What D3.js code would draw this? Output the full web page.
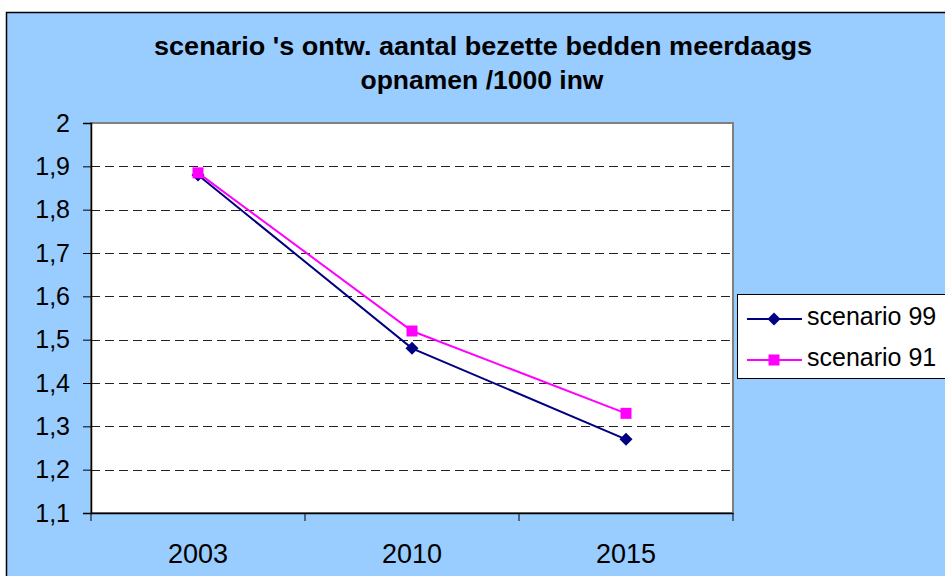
<!DOCTYPE html>
<html><head><meta charset="utf-8">
<script src="https://cdn.jsdelivr.net/npm/d3@7"></script>
<style>body{margin:0;background:#fff}svg{display:block}</style>
</head><body>
<script>
const categories = ["2003", "2010", "2015"];
const scenario99 = [1.88, 1.48, 1.27];
const scenario91 = [1.885, 1.52, 1.33];
const yTicks = [1.1, 1.2, 1.3, 1.4, 1.5, 1.6, 1.7, 1.8, 1.9, 2.0];
const titleLines = ["scenario 's ontw. aantal bezette bedden meerdaags", "opnamen /1000 inw"];
const seriesNames = ["scenario 99", "scenario 91"];

const W = 945, H = 576;
const svg = d3.select("body").append("svg").attr("width", W).attr("height", H);
const font = "'Liberation Sans', Arial, sans-serif";

svg.append("rect").attr("x", 6.5).attr("y", 12.5).attr("width", W + 10).attr("height", H + 10)
  .attr("fill", "#99CCFF").attr("stroke", "#000").attr("stroke-width", 1.5);

const L = 91, T = 123, R = 733, B = 513;
const x = d3.scaleBand().domain(categories).range([L, R]);
const y = d3.scaleLinear().domain([1.1, 2.0]).range([B, T]);

svg.append("rect").attr("x", L).attr("y", T).attr("width", R - L).attr("height", B - T)
  .attr("fill", "#fff").attr("stroke", "#808080").attr("stroke-width", 2);

// gridlines
svg.append("g").selectAll("line").data(yTicks.filter(d => d > 1.1 && d < 2)).join("line")
  .attr("x1", L).attr("x2", R).attr("y1", d => Math.round(y(d)) + 0.5).attr("y2", d => Math.round(y(d)) + 0.5)
  .attr("stroke", "#222").attr("stroke-width", 1).attr("stroke-dasharray", "9,5");

// y axis
const yAxis = d3.axisLeft(y).tickValues(yTicks).tickSize(8).tickPadding(13)
  .tickFormat(d => d3.format(".1f")(d).replace(".", ",").replace(/^2,0$/, "2"));
const gy = svg.append("g").attr("transform", `translate(${L},0)`).call(yAxis);
gy.select(".domain").attr("stroke", "#000").attr("stroke-width", 1.5);
gy.selectAll(".tick line").attr("stroke", "#000");
gy.selectAll("text").attr("font-family", font).attr("font-size", 25).attr("fill", "#000");

// x axis
const xAxis = d3.axisBottom(x).tickSize(0).tickPadding(31);
const gx = svg.append("g").attr("transform", `translate(0,${B})`).call(xAxis);
gx.select(".domain").attr("stroke", "#000").attr("stroke-width", 1.5);
gx.selectAll("text").attr("font-family", font).attr("font-size", 27).attr("fill", "#000");
const bounds = categories.map(c => x(c)).concat([R]);
svg.append("g").selectAll("line").data(bounds).join("line")
  .attr("x1", d => d).attr("x2", d => d).attr("y1", B).attr("y2", B + 8)
  .attr("stroke", "#000").attr("stroke-width", 1);

const cx = c => x(c) + x.bandwidth() / 2;
const line = d3.line().x(d => cx(d.c)).y(d => y(d.v));

const series = [
  { name: seriesNames[0], vals: scenario99, color: "#000080", shape: "diamond" },
  { name: seriesNames[1], vals: scenario91, color: "#FF00FF", shape: "square" }
];
function marker(g, shape, color, px, py) {
  if (shape === "diamond") {
    g.append("path").attr("d", `M${px},${py - 6.5}L${px + 6.5},${py}L${px},${py + 6.5}L${px - 6.5},${py}Z`).attr("fill", color);
  } else {
    g.append("rect").attr("x", px - 5.5).attr("y", py - 5.5).attr("width", 11).attr("height", 11).attr("fill", color);
  }
}
series.forEach(s => {
  const data = categories.map((c, i) => ({ c, v: s.vals[i] }));
  svg.append("path").datum(data).attr("d", line).attr("fill", "none").attr("stroke", s.color).attr("stroke-width", 2);
  const g = svg.append("g");
  data.forEach(d => marker(g, s.shape, s.color, cx(d.c), y(d.v)));
});

// title
const tl = [{ t: titleLines[0], x: 483, y: 55, len: 658 }, { t: titleLines[1], x: 482, y: 89, len: 243 }];
svg.append("g").selectAll("text").data(tl).join("text")
  .attr("x", d => d.x).attr("y", d => d.y).attr("text-anchor", "middle")
  .attr("font-family", font).attr("font-weight", "bold").attr("font-size", 25).attr("fill", "#000")
  .attr("textLength", d => d.len).attr("lengthAdjust", "spacingAndGlyphs")
  .text(d => d.t);

// legend
const lg = svg.append("g");
lg.append("rect").attr("x", 737.5).attr("y", 294.5).attr("width", 220).attr("height", 84)
  .attr("fill", "#fff").attr("stroke", "#000").attr("stroke-width", 1);
series.forEach((s, i) => {
  const ly = 319 + i * 41;
  lg.append("line").attr("x1", 747).attr("x2", 802).attr("y1", ly).attr("y2", ly).attr("stroke", s.color).attr("stroke-width", 2);
  marker(lg, s.shape, s.color, 774, ly);
  lg.append("text").attr("x", 807).attr("y", ly + 6).attr("font-family", font).attr("font-size", 25).attr("fill", "#000").text(s.name);
});
</script>
</body></html>
